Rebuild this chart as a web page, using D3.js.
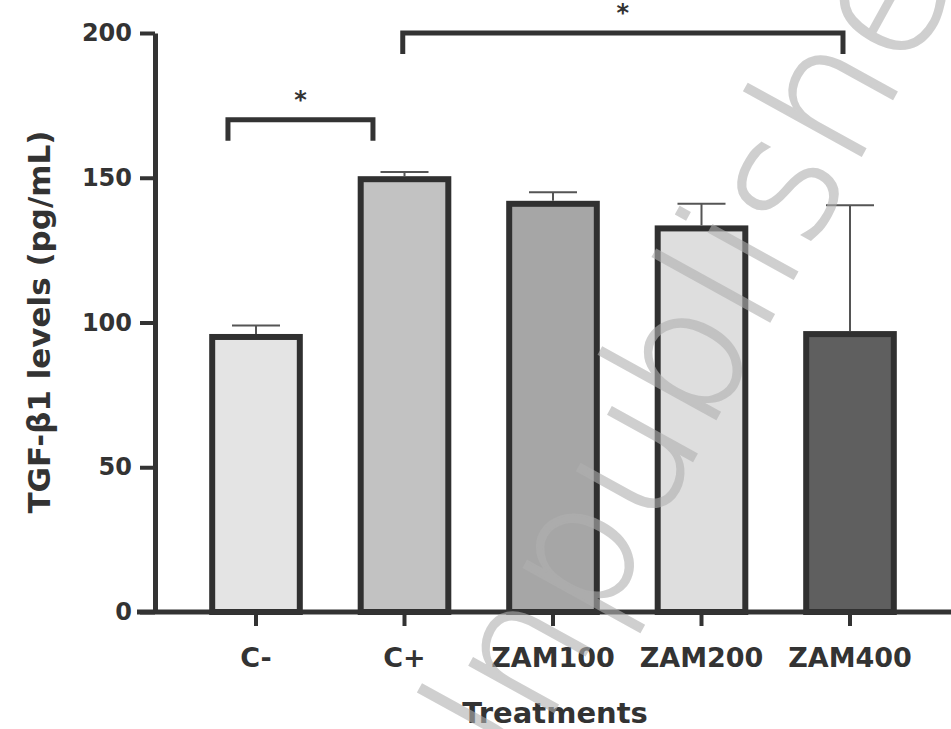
<!DOCTYPE html>
<html>
<head>
<meta charset="utf-8">
<script src="https://cdn.jsdelivr.net/npm/d3@7"></script>
<style>
  body { margin: 0; background: #fff; }
  .lbl { font-family: "DejaVu Sans", sans-serif; font-weight: bold; fill: #333; }
</style>
</head>
<body>
<div id="chart"></div>
<script>
// Chart data
var treatments = ["C-", "C+", "ZAM100", "ZAM200", "ZAM400"];
var meanLevels = [95, 149.5, 141, 132.5, 96];
var upperError = [4, 2.5, 4, 8.5, 44.5];
var barFills = ["#e4e4e4", "#c2c2c2", "#a6a6a6", "#dedede", "#5f5f5f"];
var yTicks = [0, 50, 100, 150, 200];

// Significance comparisons
var compFrom = ["C-", "C+"];
var compTo = ["C+", "ZAM400"];
var compLevel = [170, 200];
var compLabel = ["*", "*"];

var watermarkText = "Unpublished";

// SVG size
var svgWidth = 951;
var svgHeight = 729;

var svg = d3.select("#chart").append("svg")
  .attr("width", svgWidth)
  .attr("height", svgHeight);

// Scales
var xScale = d3.scaleBand()
  .domain(treatments)
  .range([181.75, 924.25])
  .paddingInner(0.41)
  .paddingOuter(0.205);

var yScale = d3.scaleLinear()
  .domain([0, 200])
  .range([612, 33]);

var bw = xScale.bandwidth();

// Bars
var rows = treatments.map(function(t, i) {
  return { name: t, mean: meanLevels[i], err: upperError[i], fill: barFills[i] };
});

svg.selectAll(".bar")
  .data(rows)
  .enter()
  .append("rect")
  .attr("class", "bar")
  .attr("x", d => xScale(d.name))
  .attr("y", d => yScale(d.mean))
  .attr("width", bw)
  .attr("height", d => yScale(0) - yScale(d.mean))
  .attr("fill", d => d.fill)
  .attr("stroke", "#303030")
  .attr("stroke-width", 6);

// Error bars (upper only)
var capHalf = 24;
var errGroup = svg.selectAll(".err").data(rows).enter().append("g").attr("class", "err");
errGroup.append("line")
  .attr("x1", d => xScale(d.name) + bw / 2)
  .attr("x2", d => xScale(d.name) + bw / 2)
  .attr("y1", d => yScale(d.mean) - 3)
  .attr("y2", d => yScale(d.mean + d.err))
  .attr("stroke", "#555")
  .attr("stroke-width", 2);
errGroup.append("line")
  .attr("x1", d => xScale(d.name) + bw / 2 - capHalf)
  .attr("x2", d => xScale(d.name) + bw / 2 + capHalf)
  .attr("y1", d => yScale(d.mean + d.err))
  .attr("y2", d => yScale(d.mean + d.err))
  .attr("stroke", "#555")
  .attr("stroke-width", 2);

// Y axis
var yAxis = d3.axisLeft(yScale)
  .tickValues(yTicks)
  .tickSize(15)
  .tickSizeOuter(0)
  .tickPadding(8);

var yAxisG = svg.append("g")
  .attr("transform", "translate(155, 0)")
  .call(yAxis);
yAxisG.select(".domain").attr("stroke", "#333").attr("stroke-width", 5);
yAxisG.selectAll(".tick line").attr("stroke", "#333").attr("stroke-width", 4);
yAxisG.selectAll(".tick text")
  .attr("class", "lbl")
  .style("font-size", "24px")
  .attr("fill", "#333");

// X axis
var xAxis = d3.axisBottom(xScale)
  .tickSize(14)
  .tickSizeOuter(0)
  .tickPadding(22);

var xAxisG = svg.append("g")
  .attr("transform", `translate(0, ${yScale(0)})`)
  .call(xAxis);
xAxisG.select(".domain").remove();
xAxisG.selectAll(".tick line").attr("stroke", "#333").attr("stroke-width", 4);
xAxisG.selectAll(".tick text")
  .attr("class", "lbl")
  .style("font-size", "27px")
  .attr("fill", "#333");

// x axis baseline runs past the plot to the right edge
svg.append("line")
  .attr("x1", 137)
  .attr("x2", svgWidth)
  .attr("y1", yScale(0))
  .attr("y2", yScale(0))
  .attr("stroke", "#333")
  .attr("stroke-width", 5);

// Significance brackets
var bracketInset = [[0.18, 0.14], [0.48, 0.42]];
compFrom.forEach(function(f, i) {
  var x1 = xScale(f) + bw * bracketInset[i][0];
  var x2 = xScale(compTo[i]) + bw * bracketInset[i][1];
  var yTop = yScale(compLevel[i]);
  var yLeg = yTop + 21;
  svg.append("path")
    .attr("d", `M${x1},${yLeg} V${yTop} H${x2} V${yLeg}`)
    .attr("fill", "none")
    .attr("stroke", "#333")
    .attr("stroke-width", 5);
  svg.append("text")
    .attr("class", "lbl")
    .attr("x", (x1 + x2) / 2)
    .attr("y", yTop - 12)
    .attr("text-anchor", "middle")
    .style("font-size", "24px")
    .text(compLabel[i]);
});

// Axis titles
svg.append("text")
  .attr("class", "lbl")
  .attr("transform", "translate(50, 322) rotate(-90)")
  .attr("text-anchor", "middle")
  .style("font-size", "31px")
  .text("TGF-β1 levels (pg/mL)");

svg.append("text")
  .attr("class", "lbl")
  .attr("x", 555)
  .attr("y", 723)
  .attr("text-anchor", "middle")
  .style("font-size", "29px")
  .text("Treatments");

// Watermark, faint and on top.
// Fit it so the bowl of "p" and the "s" land where they sit in the picture.
var wmSize = 176;
var pAt = [588, 552];
var sAt = [788, 190];
var wm = svg.append("g")
  .attr("opacity", 0.6)
  .style("pointer-events", "none");
var wmText = wm.append("text")
  .style("font-family", "'DejaVu Sans', sans-serif")
  .style("font-weight", 200)
  .style("font-size", wmSize + "px")
  .attr("fill", "#b0b0b0")
  .attr("stroke", "#b0b0b0")
  .attr("stroke-width", 2)
  .text(watermarkText);
var node = wmText.node();
var pIdx = watermarkText.indexOf("p");
var sIdx = watermarkText.indexOf("s");
var pBowl = node.getSubStringLength(0, pIdx) + node.getSubStringLength(pIdx, 1) * 0.58;
var sMid = node.getSubStringLength(0, sIdx) + node.getSubStringLength(sIdx, 1) / 2;
var dx = sAt[0] - pAt[0], dy = sAt[1] - pAt[1];
var stretch = Math.sqrt(dx * dx + dy * dy) / (sMid - pBowl);
var angle = Math.atan2(dy, dx) * 180 / Math.PI;
wmText.attr("x", -sMid).attr("y", wmSize * 0.27);
wm.attr("transform", `translate(${sAt[0]}, ${sAt[1]}) rotate(${angle}) scale(${stretch}, 1)`);
</script>
</body>
</html>
